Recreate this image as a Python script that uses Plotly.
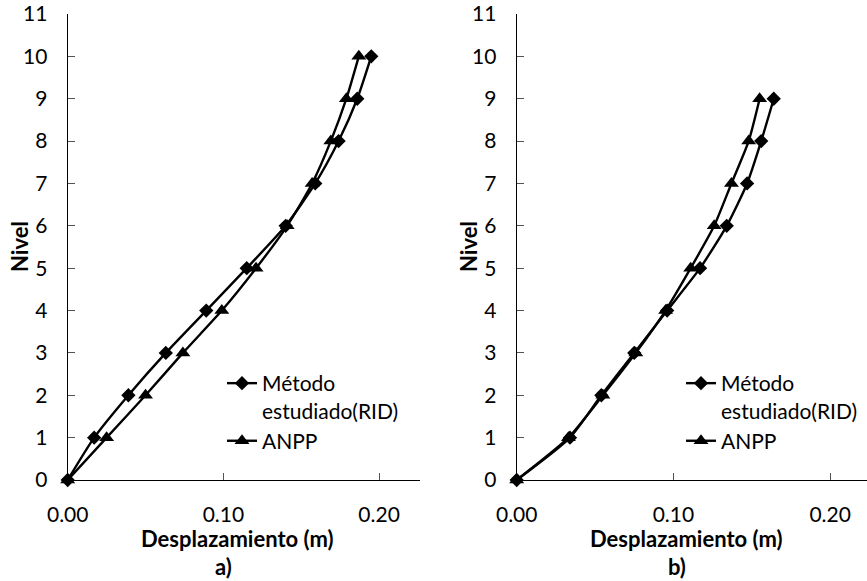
import plotly.graph_objects as go

# Storey levels
levels_a = [0, 1, 2, 3, 4, 5, 6, 7, 8, 9, 10]
levels_b = [0, 1, 2, 3, 4, 5, 6, 7, 8, 9]

# Lateral displacements (m)
rid_a = [0.0, 0.017, 0.039, 0.063, 0.089, 0.115, 0.140, 0.159, 0.174, 0.186, 0.195]
anpp_a = [0.0, 0.025, 0.050, 0.074, 0.099, 0.121, 0.141, 0.157, 0.169, 0.179, 0.187]
rid_b = [0.0, 0.034, 0.054, 0.075, 0.096, 0.117, 0.134, 0.147, 0.156, 0.164]
anpp_b = [0.0, 0.033, 0.055, 0.076, 0.095, 0.111, 0.126, 0.137, 0.148, 0.155]

x_ticks = [0.0, 0.1, 0.2]
x_ticktext = ["0.00", "0.10", "0.20"]
y_ticks = list(range(0, 12))

name_rid = "Método<br>estudiado(RID)"
name_anpp = "ANPP"

FONT = "Lato"
W, H = 867, 581

fig = go.Figure()


def add_series(x, y, name, symbol, size, xa, ya, legend):
    fig.add_trace(go.Scatter(
        x=x, y=y, name=name, mode="lines+markers",
        line=dict(color="black", width=2.4, shape="spline", smoothing=0.6),
        marker=dict(symbol=symbol, size=size, color="black"),
        xaxis=xa, yaxis=ya, legend=legend, cliponaxis=False,
    ))


add_series(rid_a, levels_a, name_rid, "diamond", 11, "x", "y", "legend")
add_series(anpp_a, levels_a, name_anpp, "triangle-up", 13, "x", "y", "legend")
add_series(rid_b, levels_b, name_rid, "diamond", 11, "x2", "y2", "legend2")
add_series(anpp_b, levels_b, name_anpp, "triangle-up", 13, "x2", "y2", "legend2")


def px_x(p):
    return p / W


def px_y(p):
    return (H - p) / H


xaxis_common = dict(
    tickvals=x_ticks, ticktext=x_ticktext, ticks="inside", ticklen=7,
    tickcolor="#555", showline=True, linecolor="black", linewidth=1.3,
    showgrid=False, zeroline=False, ticklabelstandoff=16, automargin=False,
    ticklabeloverflow="allow",
    tickfont=dict(family=FONT, size=21, color="black"),
)
yaxis_common = dict(
    tickvals=y_ticks, range=[0, 11], ticks="inside", ticklen=7,
    tickcolor="#555", showline=True, linecolor="black", linewidth=1.3,
    showgrid=False, zeroline=False, ticklabelstandoff=15, automargin=False,
    ticklabeloverflow="allow",
    tickfont=dict(family=FONT, size=21, color="black"),
)

y_dom = [px_y(480), px_y(14)]

legend_common = dict(
    bgcolor="rgba(0,0,0,0)", borderwidth=0, xanchor="left", yanchor="top",
    font=dict(family=FONT, size=21, color="black"), valign="top",
    tracegroupgap=0, itemwidth=30,
)

fig.update_layout(
    width=W, height=H,
    margin=dict(l=0, r=0, t=0, b=0, autoexpand=False),
    paper_bgcolor="white", plot_bgcolor="white",
    font=dict(family=FONT, color="black"),
    xaxis=dict(domain=[px_x(67.7), px_x(420)], range=[0, 0.2263],
               anchor="y", **xaxis_common),
    yaxis=dict(domain=y_dom, anchor="x", **yaxis_common),
    xaxis2=dict(domain=[px_x(516.7), 1.0], range=[0, 0.2235],
                anchor="y2", **xaxis_common),
    yaxis2=dict(domain=y_dom, anchor="x2", **yaxis_common),
    legend=dict(x=px_x(222), y=px_y(363), **legend_common),
    legend2=dict(x=px_x(681), y=px_y(363), **legend_common),
    showlegend=True,
)

bold = dict(family=FONT, size=22, color="black")
annotations = [
    dict(text="<b>Desplazamiento (m)</b>", x=px_x(237), y=px_y(538)),
    dict(text="<b>a)</b>", x=px_x(224), y=px_y(566)),
    dict(text="<b>Desplazamiento (m)</b>", x=px_x(686), y=px_y(538)),
    dict(text="<b>b)</b>", x=px_x(677), y=px_y(566)),
    dict(text="<b>Nivel</b>", x=px_x(20), y=px_y(247), textangle=-90),
    dict(text="<b>Nivel</b>", x=px_x(469), y=px_y(247), textangle=-90),
]
for a in annotations:
    fig.add_annotation(xref="paper", yref="paper", showarrow=False,
                       xanchor="center", yanchor="middle", font=bold, **a)

fig.write_html("out.html")
